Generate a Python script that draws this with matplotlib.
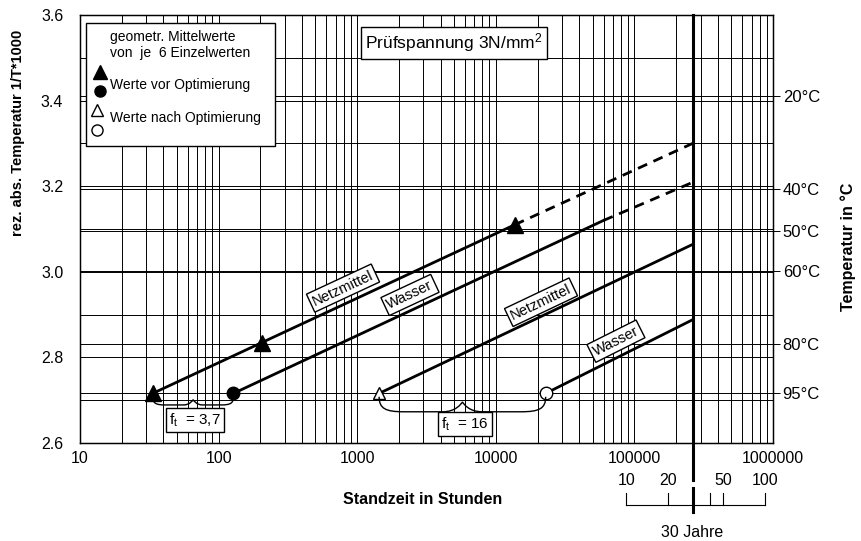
import numpy as np
import matplotlib.pyplot as plt
from matplotlib.path import Path
from matplotlib.patches import PathPatch, Rectangle
from matplotlib.ticker import NullFormatter

plt.rcParams['font.family'] = ['Liberation Sans', 'DejaVu Sans']
plt.rcParams['mathtext.default'] = 'regular'

# Messpunkte (geometr. Mittelwerte)
netz_vor_x = [33.5, 207, 13700]
netz_vor_y = [2.716, 2.834, 3.11]
wasser_vor_x = [128]
wasser_vor_y = [2.716]
netz_nach_x = [1440]
netz_nach_y = [2.716]
wasser_nach_x = [22900]
wasser_nach_y = [2.716]

# Geraden: durchgezogen und extrapoliert (gestrichelt)
netz_vor_line_x = [33.5, 13700]
netz_vor_line_y = [2.716, 3.11]
netz_vor_ext_x = [13700, 262800]
netz_vor_ext_y = [3.11, 3.30]
wasser_vor_line_x = [128, 59800]
wasser_vor_line_y = [2.716, 3.12]
wasser_vor_ext_x = [59800, 262800]
wasser_vor_ext_y = [3.12, 3.209]
netz_nach_line_x = [1440, 262800]
netz_nach_line_y = [2.716, 3.064]
wasser_nach_line_x = [22900, 262800]
wasser_nach_line_y = [2.716, 2.888]

x_ticks = [10, 100, 1000, 10000, 100000, 1000000]
y_ticks = [2.6, 2.8, 3.0, 3.2, 3.4, 3.6]
y_minor = [2.7, 2.9, 3.1, 3.3, 3.5]
temps_c = [20, 40, 50, 60, 80, 95]
years = [10, 20, 30, 40, 50, 100]
year_labels = [10, 20, 50, 100]
h_per_year = 8760

fig = plt.figure(figsize=(8.61, 5.41), dpi=100)
ax = fig.add_axes([0.0929, 0.1811, 0.8049, 0.7911])

ax.set_xscale('log')
ax.set_xlim(10, 1e6)
ax.set_ylim(2.6, 3.6)
ax.set_xticks(x_ticks, labels=[str(v) for v in x_ticks])
ax.xaxis.set_minor_formatter(NullFormatter())
ax.set_yticks(y_ticks, labels=[f'{v:.1f}' for v in y_ticks])
ax.set_yticks(y_minor, minor=True)
ax.grid(which='both', color='black', lw=0.7)
ax.tick_params(axis='x', which='both', length=0, pad=6, labelsize=11.5)
ax.tick_params(axis='y', which='both', length=0, pad=12, labelsize=11.5)
for s in ax.spines.values():
    s.set_linewidth(1)

temp_pos = [1000 / (t + 273.15) for t in temps_c]
for v in temp_pos:
    ax.axhline(v, color='black', lw=0.7, zorder=1)

ax2 = ax.twinx()
ax2.set_ylim(2.6, 3.6)
ax2.set_yticks(temp_pos, labels=[f'{t}°C' for t in temps_c])
ax2.tick_params(axis='y', length=5, width=0.7, direction='out', pad=2, labelsize=12)

lw = 2
ax.plot(netz_vor_line_x, netz_vor_line_y, color='black', lw=lw, zorder=3)
ax.plot(netz_vor_ext_x, netz_vor_ext_y, color='black', lw=lw, ls=(0, (3.6, 2.5)), zorder=3)
ax.plot(wasser_vor_line_x, wasser_vor_line_y, color='black', lw=lw, zorder=3)
ax.plot(wasser_vor_ext_x, wasser_vor_ext_y, color='black', lw=lw, ls=(0, (3.6, 2.5)), zorder=3)
ax.plot(netz_nach_line_x, netz_nach_line_y, color='black', lw=lw, zorder=3)
ax.plot(wasser_nach_line_x, wasser_nach_line_y, color='black', lw=lw, zorder=3)

ax.plot(netz_vor_x, netz_vor_y, ls='none', marker='^', ms=11, color='black', zorder=4)
ax.plot(wasser_vor_x, wasser_vor_y, ls='none', marker='o', ms=9, color='black', zorder=4)
ax.plot(netz_nach_x, netz_nach_y, ls='none', marker='^', ms=9, mfc='white', mec='black', mew=1, zorder=4)
ax.plot(wasser_nach_x, wasser_nach_y, ls='none', marker='o', ms=9, mfc='white', mec='black', mew=1, zorder=4)


def line_angle(xs, ys):
    p = ax.transData.transform(list(zip(xs, ys)))
    return np.degrees(np.arctan2(p[1, 1] - p[0, 1], p[1, 0] - p[0, 0]))


box = dict(boxstyle='square,pad=0.2', fc='white', ec='black', lw=1)
line_labels = [('Netzmittel', 790, 2.962, netz_vor_line_x, netz_vor_line_y),
               ('Wasser', 2404, 2.946, wasser_vor_line_x, wasser_vor_line_y),
               ('Netzmittel', 21200, 2.929, netz_nach_line_x, netz_nach_line_y),
               ('Wasser', 73600, 2.838, wasser_nach_line_x, wasser_nach_line_y)]
for txt, x, y, lx, ly in line_labels:
    ax.text(x, y, txt, fontsize=10.5, rotation=line_angle(lx, ly), rotation_mode='anchor',
            ha='center', va='center', bbox=box, zorder=5)


def brace(xa, xb, y, depth):
    to_ax = ax.transData + ax.transAxes.inverted()
    (x0, y0), (x1, _) = to_ax.transform([(xa, y), (xb, y)])
    y0 -= 0.008
    w = x1 - x0
    xm = (x0 + x1) / 2
    d = depth
    verts = [(x0, y0),
             (x0, y0 - 0.8 * d), (x0 + 0.04 * w, y0 - d), (x0 + 0.15 * w, y0 - d),
             (xm - 0.12 * w, y0 - d),
             (xm - 0.04 * w, y0 - d), (xm - 0.01 * w, y0 - 0.5 * d), (xm, y0 - 0.35 * d),
             (xm + 0.01 * w, y0 - 0.5 * d), (xm + 0.04 * w, y0 - d), (xm + 0.12 * w, y0 - d),
             (x1 - 0.15 * w, y0 - d),
             (x1 - 0.04 * w, y0 - d), (x1, y0 - 0.8 * d), (x1, y0)]
    codes = [Path.MOVETO] + [Path.CURVE4] * 3 + [Path.LINETO] + [Path.CURVE4] * 6 \
        + [Path.LINETO] + [Path.CURVE4] * 3
    ax.add_patch(PathPatch(Path(verts, codes), fc='none', ec='black', lw=1,
                           transform=ax.transAxes, zorder=4))


brace(netz_vor_x[0], wasser_vor_x[0], netz_vor_y[0], 0.019)
brace(netz_nach_x[0], wasser_nach_x[0], netz_nach_y[0], 0.035)
ax.text(67.6, 2.654, 'f$_t$  = 3,7', fontsize=11, ha='center', va='center', bbox=box, zorder=5)
ax.text(6000, 2.644, 'f$_t$  = 16', fontsize=11, ha='center', va='center', bbox=box, zorder=5)

# Legende
ax.add_patch(Rectangle((0.0087, 0.694), 0.2727, 0.287, transform=ax.transAxes,
                       fc='white', ec='black', lw=1, zorder=5))
ax.text(0.0433, 0.9486, 'geometr. Mittelwerte', transform=ax.transAxes, fontsize=10,
        va='center', zorder=6)
ax.text(0.0433, 0.911, 'von  je  6 Einzelwerten', transform=ax.transAxes, fontsize=10,
        va='center', zorder=6)
ax.text(0.0433, 0.8364, 'Werte vor Optimierung', transform=ax.transAxes, fontsize=10,
        va='center', zorder=6)
ax.text(0.0433, 0.7593, 'Werte nach Optimierung', transform=ax.transAxes, fontsize=10,
        va='center', zorder=6)
ax.plot([0.0289], [0.8668], marker='^', ms=10, color='black', transform=ax.transAxes, zorder=6)
ax.plot([0.0289], [0.8224], marker='o', ms=8, color='black', transform=ax.transAxes, zorder=6)
ax.plot([0.0245], [0.778], marker='^', ms=9, mfc='white', mec='black', mew=1,
        transform=ax.transAxes, zorder=6)
ax.plot([0.0245], [0.7313], marker='o', ms=8, mfc='white', mec='black', mew=1,
        transform=ax.transAxes, zorder=6)

ax.text(0.5397, 0.9346, 'Prüfspannung 3N/mm$^2$', transform=ax.transAxes, fontsize=12.5,
        ha='center', va='center', zorder=6,
        bbox=dict(boxstyle='square,pad=0.25', fc='white', ec='black', lw=1))

# 30-Jahre-Linie und Jahresskala
trans = ax.get_xaxis_transform()
h30 = 30 * h_per_year
ax.plot([h30, h30], [1.0, -0.0864], transform=trans, color='black', lw=2.2,
        clip_on=False, zorder=4)
ax.plot([years[0] * h_per_year, years[-1] * h_per_year], [-0.1449, -0.1449],
        transform=trans, color='black', lw=0.8, clip_on=False)
for yr in years:
    if yr == 30:
        ax.plot([yr * h_per_year] * 2, [-0.1051, -0.1612], transform=trans,
                color='black', lw=2.2, clip_on=False)
    else:
        ax.plot([yr * h_per_year] * 2, [-0.1168, -0.1449], transform=trans,
                color='black', lw=0.8, clip_on=False)
for yr in year_labels:
    ax.text(yr * h_per_year, -0.0864, str(yr), transform=trans, fontsize=11.5,
            ha='center', va='center')
ax.text(h30, -0.208, '30 Jahre', transform=trans, fontsize=11.5, ha='center', va='center')

fig.text(423 / 861, 1 - 500 / 541, 'Standzeit in Stunden', fontsize=11.5,
         fontweight='bold', ha='center', va='center')
fig.text(18 / 861, 1 - 133 / 541, 'rez. abs. Temperatur 1/T*1000', fontsize=10.5,
         fontweight='bold', rotation=90, ha='center', va='center')
fig.text(848 / 861, 1 - 247 / 541, 'Temperatur in °C', fontsize=11.5,
         fontweight='bold', rotation=90, ha='center', va='center')

fig.savefig('out.png', dpi=100)
